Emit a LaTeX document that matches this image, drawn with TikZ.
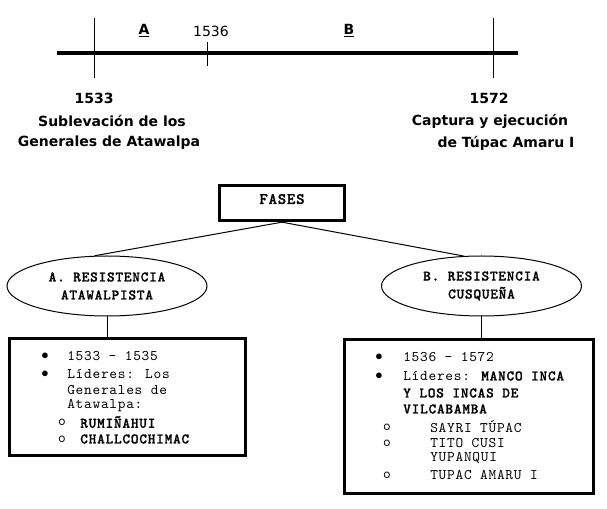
\documentclass[tikz,border=0pt]{standalone}
\usepackage{fontspec}
\setmainfont{DejaVu Sans}
\newfontfamily\cour{lmmono10-regular}[Extension=.otf, LetterSpace=5]
\newfontfamily\courbf{lmmonolt10-bold}[Extension=.otf, LetterSpace=5, FakeBold=1]
\usetikzlibrary{positioning,shapes.geometric}

\begin{document}
\begin{tikzpicture}[
  x=0.75pt, y=-0.75pt,
  yearlbl/.style={inner sep=0pt, font=\bfseries\fontsize{10.5}{12}\selectfont},
  plainlbl/.style={inner sep=0pt, font=\fontsize{10.5}{12}\selectfont},
  phasebox/.style={rectangle, draw, line width=2.5pt, minimum width=93.75pt, minimum height=26.25pt, inner sep=0pt, text depth=6pt, font=\courbf\fontsize{12}{13}\selectfont},
  phase/.style={ellipse, draw, line width=0.75pt, minimum width=150pt, minimum height=45pt, inner sep=0pt, align=center, font=\courbf\fontsize{11}{13.5}\selectfont},
  listbox/.style={rectangle, draw, line width=2.25pt, inner sep=0pt},
  item/.style={anchor=west, inner sep=0pt, font=\cour\fontsize{11}{12}\selectfont},
  bolditem/.style={item, font=\courbf\fontsize{11}{12}\selectfont},
  dot/.style={inner sep=0pt, font=\cour\fontsize{11}{12}\selectfont},
  link/.style={line width=0.75pt}
  ]
  \useasboundingbox (0,0) rectangle (607,509);

  % Timeline
  \coordinate (tl0) at (57,53);
  \coordinate (tl1) at (518,53);
  \draw[line width=3pt] (tl0) -- (tl1);
  \draw[link] (94,18) -- (94,78);
  \draw[link] (207,42) -- (207,66);
  \draw[link] (493,18) -- (493,78);
  \node[yearlbl] (phA) at (144,31) {\underline{A}};
  \node[plainlbl] (y1536) at (211,31) {1536};
  \node[yearlbl] (phB) at (349,31) {\underline{B}};

  \node[yearlbl] (y1533) at (94,98) {1533};
  \node[yearlbl] (ev1a) at (112,121) {Sublevación de los};
  \node[yearlbl] (ev1b) at (109,143) {Generales de Atawalpa};
  \node[yearlbl] (y1572) at (489,98) {1572};
  \node[yearlbl] (ev2a) at (490,121) {Captura y ejecución};
  \node[yearlbl] (ev2b) at (506,143) {de Túpac Amaru I};

  % Phases
  \node[phasebox] (fases) at (282,203) {FASES};
  \node[phase] (resA) at (107,286) {A. RESISTENCIA\\ATAWALPISTA};
  \node[phase] (resB) at (481.5,286) {B. RESISTENCIA\\CUSQUEÑA};
  \draw[link] (fases.south) -- (resA.112);
  \draw[link] (fases.south) -- (resB.121);

  % Boxes
  \node[listbox, minimum width=177pt, minimum height=87.75pt] (boxA) at (127.5,397) {};
  \node[listbox, minimum width=186.75pt, minimum height=115.5pt] (boxB) at (469,416.5) {};
  \draw[link] (resA.south) -- (resA.south |- boxA.north);
  \draw[link] (resB.south) -- (resB.south |- boxB.north);

  % Phase A list
  \node[dot] (a1d) at (45,356) {$\bullet$};
  \node[item] (a1) at (67,356) {1533 – 1535};
  \node[dot] (a2d) at (45,374) {$\bullet$};
  \node[item] (a2) at (67,374) {Líderes: Los};
  \node[item] (a3) at (67,390) {Generales de};
  \node[item] (a4) at (67,406) {Atawalpa:};
  \node[dot] (a5d) at (62,422) {o};
  \node[bolditem] (a5) at (80,422) {RUMIÑAHUI};
  \node[dot] (a6d) at (62,439) {o};
  \node[bolditem] (a6) at (80,439) {CHALLCOCHIMAC};

  % Phase B list
  \node[dot] (b1d) at (379,357) {$\bullet$};
  \node[item] (b1) at (403,357) {1536 – 1572};
  \node[dot] (b2d) at (379,376) {$\bullet$};
  \node[item] (b2) at (403,376) {Líderes: {\courbf MANCO INCA}};
  \node[bolditem] (b3) at (403,393) {Y LOS INCAS DE};
  \node[bolditem] (b4) at (403,409) {VILCABAMBA};
  \node[dot] (b5d) at (387,427) {o};
  \node[item] (b5) at (430,427) {SAYRI TÚPAC};
  \node[dot] (b6d) at (387,443) {o};
  \node[item] (b6) at (430,443) {TITO CUSI};
  \node[item] (b7) at (430,458) {YUPANQUI};
  \node[dot] (b8d) at (387,475) {o};
  \node[item] (b8) at (430,475) {TUPAC AMARU I};
\end{tikzpicture}
\end{document}
